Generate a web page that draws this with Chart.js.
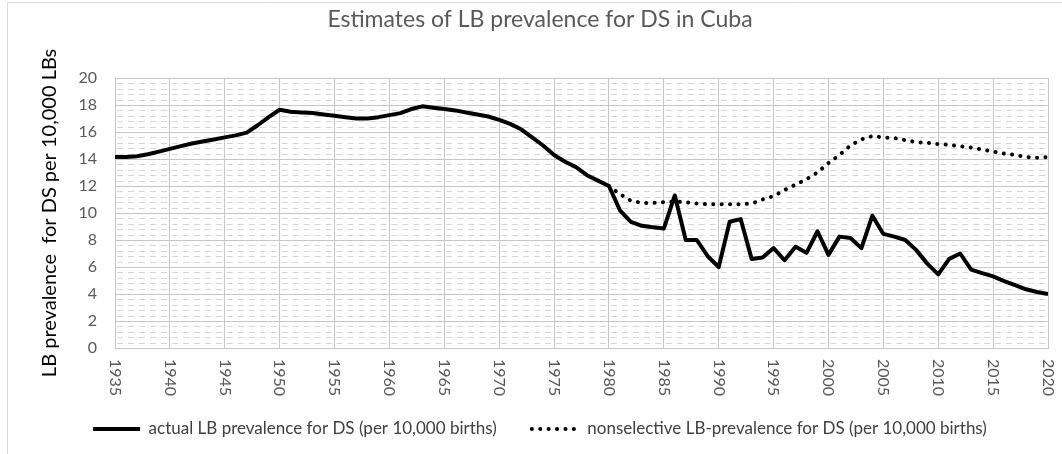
<!DOCTYPE html>
<html>
<head>
<meta charset="utf-8">
<script src="https://cdn.jsdelivr.net/npm/chart.js@4"></script>
<style>
  html, body { margin: 0; padding: 0; background: #fff; }
</style>
</head>
<body>
<canvas id="dsChart" width="1062" height="454"></canvas>
<script>
const years = [1935, 1936, 1937, 1938, 1939, 1940, 1941, 1942, 1943, 1944,
  1945, 1946, 1947, 1948, 1949, 1950, 1951, 1952, 1953, 1954,
  1955, 1956, 1957, 1958, 1959, 1960, 1961, 1962, 1963, 1964,
  1965, 1966, 1967, 1968, 1969, 1970, 1971, 1972, 1973, 1974,
  1975, 1976, 1977, 1978, 1979, 1980, 1981, 1982, 1983, 1984,
  1985, 1986, 1987, 1988, 1989, 1990, 1991, 1992, 1993, 1994,
  1995, 1996, 1997, 1998, 1999, 2000, 2001, 2002, 2003, 2004,
  2005, 2006, 2007, 2008, 2009, 2010, 2011, 2012, 2013, 2014,
  2015, 2016, 2017, 2018, 2019, 2020];

const actualLB = [14.15, 14.15, 14.2, 14.35, 14.55, 14.75, 14.95, 15.15, 15.3, 15.45,
  15.6, 15.75, 15.95, 16.5, 17.1, 17.65, 17.5, 17.45, 17.4, 17.3,
  17.2, 17.1, 17.0, 17.0, 17.1, 17.25, 17.4, 17.7, 17.9, 17.8,
  17.7, 17.6, 17.45, 17.3, 17.15, 16.9, 16.6, 16.2, 15.6, 15.0,
  14.3, 13.8, 13.4, 12.8, 12.4, 12.0, 10.2, 9.35, 9.05, 8.95,
  8.85, 11.3, 8.0, 8.0, 6.8, 6.0, 9.35, 9.55, 6.6, 6.7,
  7.4, 6.5, 7.5, 7.05, 8.65, 6.9, 8.25, 8.15, 7.4, 9.8,
  8.45, 8.25, 8.0, 7.25, 6.25, 5.45, 6.6, 7.0, 5.8, 5.55,
  5.3, 4.95, 4.65, 4.35, 4.15, 4.0];

const nonselectiveYears = [1980, 1981, 1982, 1983, 1984, 1985, 1986, 1987, 1988, 1989,
  1990, 1991, 1992, 1993, 1994, 1995, 1996, 1997, 1998, 1999,
  2000, 2001, 2002, 2003, 2004, 2005, 2006, 2007, 2008, 2009,
  2010, 2011, 2012, 2013, 2014, 2015, 2016, 2017, 2018, 2019, 2020];

const nonselectiveLB = [12.0, 11.4, 10.9, 10.75, 10.75, 10.8, 10.85, 10.8, 10.7, 10.65,
  10.65, 10.65, 10.65, 10.7, 11.0, 11.25, 11.7, 12.1, 12.5, 13.0,
  13.7, 14.3, 15.0, 15.45, 15.7, 15.6, 15.55, 15.4, 15.25, 15.2,
  15.1, 15.05, 14.95, 14.85, 14.7, 14.55, 14.4, 14.3, 14.15, 14.1, 14.15];

const xTickLabels = ['1935', '1940', '1945', '1950', '1955', '1960', '1965', '1970', '1975',
  '1980', '1985', '1990', '1995', '2000', '2005', '2010', '2015', '2020'];

const fontFamily = 'Lato, "Open Sans", sans-serif';
const gridGray = '#c6c6c6';

// frame round the whole chart, like the Excel chart area
const chartFrame = {
  id: 'chartFrame',
  beforeDraw(chart) {
    const c = chart.ctx;
    c.save();
    c.fillStyle = '#fff';
    c.fillRect(0, 0, chart.width, chart.height);
    c.strokeStyle = '#d9d9d9';
    c.lineWidth = 1;
    c.beginPath();
    c.moveTo(7.5, chart.height);
    c.lineTo(7.5, 2.5);
    c.lineTo(chart.width, 2.5);
    c.stroke();
    c.restore();
  }
};

// dashed minor gridlines between the major ones, restarting in every 5-year cell
const minorGrid = {
  id: 'minorGrid',
  beforeDatasetsDraw(chart) {
    const {ctx: c, scales: {x, y}} = chart;
    c.save();
    c.strokeStyle = '#d6d6d6';
    c.lineWidth = 1;
    c.setLineDash([6, 5]);
    for (let i = 1; i < 50; i++) {
      if (i % 5 === 0) continue;
      const py = Math.round(y.getPixelForValue(i * 0.4)) + 0.5;
      for (let k = 0; k < xTickLabels.length - 1; k++) {
        const x0 = x.getPixelForValue(Number(xTickLabels[k]));
        const x1 = x.getPixelForValue(Number(xTickLabels[k + 1]));
        c.beginPath();
        c.moveTo(x0 + 2, py);
        c.lineTo(x1 - 1, py);
        c.stroke();
      }
    }
    c.restore();
  }
};

// x labels turned clockwise, reading top to bottom
const rotatedTicks = {
  id: 'rotatedTicks',
  afterDraw(chart) {
    const {ctx: c, scales: {x}, chartArea: a} = chart;
    c.save();
    c.fillStyle = '#595959';
    c.font = '16px ' + fontFamily;
    c.textAlign = 'left';
    c.textBaseline = 'middle';
    xTickLabels.forEach(lbl => {
      const px = x.getPixelForValue(Number(lbl));
      c.save();
      c.translate(px, a.bottom + 11);
      c.rotate(Math.PI / 2);
      c.fillText(lbl, 0, 0);
      c.restore();
    });
    c.restore();
  }
};

const ctx = document.getElementById('dsChart').getContext('2d');
const dsChart = new Chart(ctx, {
  type: 'line',
  data: {
    datasets: [{
      label: 'actual LB prevalence for DS (per 10,000 births)',
      data: years.map((yr, i) => ({x: yr, y: actualLB[i]})),
      borderColor: '#000',
      backgroundColor: '#000',
      borderWidth: 4,
      borderJoinStyle: 'round',
      pointRadius: 0,
      tension: 0
    }, {
      label: 'nonselective LB-prevalence for DS (per 10,000 births)',
      data: nonselectiveYears.map((yr, i) => ({x: yr, y: nonselectiveLB[i]})),
      borderColor: '#000',
      backgroundColor: '#000',
      borderWidth: 4,
      borderDash: [0.1, 8.3],
      borderCapStyle: 'round',
      pointRadius: 0,
      tension: 0
    }]
  },
  options: {
    responsive: false,
    animation: false,
    layout: { padding: { left: 32, right: 14, top: 0, bottom: 6.5 } },
    scales: {
      x: {
        type: 'linear',
        min: 1935,
        max: 2020,
        ticks: { stepSize: 5, display: false },
        grid: { color: gridGray, drawTicks: false },
        border: { color: gridGray },
        afterFit: s => { s.height = 37.5; }
      },
      y: {
        min: 0,
        max: 20,
        ticks: { stepSize: 2, padding: 18, color: '#595959', font: { size: 16, family: fontFamily } },
        grid: { color: gridGray, drawTicks: false },
        border: { color: gridGray },
        title: {
          display: true,
          text: 'LB prevalence  for DS per 10,000 LBs',
          color: '#000',
          font: { size: 20, family: fontFamily },
          padding: { top: 6, bottom: 0 }
        },
        afterFit: s => { s.width = 83; }
      }
    },
    plugins: {
      title: {
        display: true,
        text: 'Estimates of LB prevalence for DS in Cuba',
        color: '#595959',
        font: { size: 23, weight: 'normal', family: fontFamily },
        padding: { top: 6, bottom: 44.4 }
      },
      legend: {
        position: 'bottom',
        labels: {
          usePointStyle: true,
          pointStyle: 'line',
          pointStyleWidth: 47,
          color: '#404040',
          font: { size: 17, family: fontFamily },
          padding: 35,
          generateLabels: chart => Chart.defaults.plugins.legend.labels.generateLabels(chart).map((item, i) => ({
            ...item,
            strokeStyle: '#000',
            lineWidth: 4,
            lineDash: chart.data.datasets[i].borderDash || [],
            lineCap: chart.data.datasets[i].borderDash ? 'round' : 'butt'
          }))
        }
      },
      tooltip: { enabled: false }
    }
  },
  plugins: [chartFrame, minorGrid, rotatedTicks]
});
</script>
</body>
</html>
